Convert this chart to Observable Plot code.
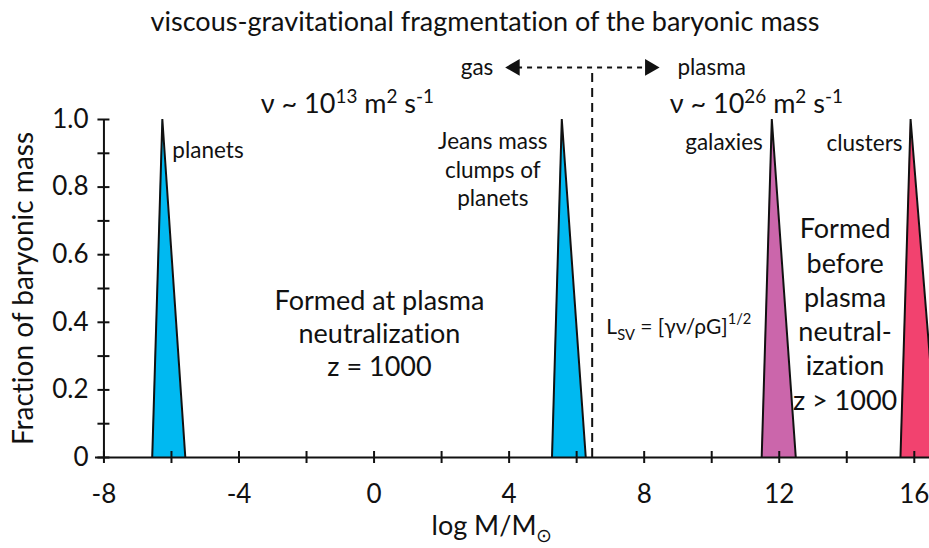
<!DOCTYPE html>
<html><head><meta charset="utf-8">
<script src="https://cdn.jsdelivr.net/npm/d3@7"></script>
<script src="https://cdn.jsdelivr.net/npm/@observablehq/plot@0.6"></script>
<style>
body{margin:0;background:#fff;font-family:Lato, sans-serif;color:#111;font-variant-ligatures:none;position:relative;width:929px;}
svg text{font-variant-ligatures:none;}
#title{height:40px;position:relative;}
#title span{position:absolute;left:485px;top:20px;transform:translate(-50%,-50%);white-space:nowrap;font-size:27px;}
#xlabel{height:36px;position:relative;}
#xlabel span{position:absolute;left:492px;top:15px;transform:translate(-50%,-50%);white-space:nowrap;font-size:27px;}
#xlabel sub{font-size:70%;}
</style></head><body>
<div id="title"><span>viscous-gravitational fragmentation of the baryonic mass</span></div>
<div id="chart"></div>
<div id="xlabel"><span>log M/M<sub>⊙</sub></span></div>
<script>
// peaks of the baryonic-mass distribution (log M/M_sun)
const peaks = ["planets", "Jeans mass clumps", "galaxies", "clusters"];
const apex = [-6.27, 5.56, 11.78, 15.89];
const baseLeft = [-6.57, 5.27, 11.48, 15.59];
const baseRight = [-5.59, 6.27, 12.49, 16.7];
const peakFraction = [1.0, 1.0, 1.0, 1.0];
const peakColors = ["#00b9f1", "#00b9f1", "#cb66ab", "#f2426f"];
const peakLabels = ["planets", "Jeans mass\nclumps of\nplanets", "galaxies", "clusters"];

const xTicks = [-8, -6, -4, -2, 0, 2, 4, 6, 8, 10, 12, 14, 16];
const xTickLabels = [-8, -4, 0, 4, 8, 12, 16];
const yTicks = [0, 0.1, 0.2, 0.3, 0.4, 0.5, 0.6, 0.7, 0.8, 0.9, 1.0];
const yTickLabels = [0, 0.2, 0.4, 0.6, 0.8, 1.0];

// gas / plasma transition
const transitionX = 6.46;
const arrowY = 1.154;
const arrowTips = [3.95, 8.39];

const tri = peaks.flatMap((p, i) => [
  {peak: p, x: baseLeft[i], y: 0},
  {peak: p, x: apex[i], y: peakFraction[i]},
  {peak: p, x: baseRight[i], y: 0}
]);

const F = "Lato, sans-serif";
const labelSize = 22.5;

const plot = Plot.plot({
  width: 929, height: 472,
  marginLeft: 95, marginRight: 0, marginTop: 79, marginBottom: 55,
  style: {fontFamily: F, color: "#111", background: "white", overflow: "visible"},
  x: {domain: [-8.25, 16.45]},
  y: {domain: [0, 1]},
  color: {domain: peaks, range: peakColors},
  marks: [
    Plot.areaY(tri, {x: "x", y: "y", z: "peak", fill: "peak", curve: "linear", clip: true}),
    Plot.line(tri, {x: "x", y: "y", z: "peak", stroke: "#111", strokeWidth: 2, strokeLinejoin: "miter", strokeMiterlimit: 30, clip: true}),
    // axis lines and crossing ticks
    Plot.ruleY([0], {stroke: "#111", strokeWidth: 2}),
    Plot.ruleX([-8], {y1: 0, y2: 1, stroke: "#111", strokeWidth: 2}),
    Plot.ruleX(xTicks, {x: d => d, y1: 0, y2: 0, insetTop: -6, insetBottom: -6, stroke: "#111", strokeWidth: 2}),
    Plot.ruleY(yTicks, {y: d => d, x1: -8, x2: -8, insetLeft: -6, insetRight: -6, stroke: "#111", strokeWidth: 2}),
    Plot.axisX({ticks: xTickLabels, tickSize: 0, tickPadding: 27, fontSize: 26, label: null, tickFormat: d => String(d)}),
    Plot.axisY({ticks: yTickLabels, tickSize: 0, tickPadding: 7, fontSize: 26, label: null, tickFormat: d => d === 0 ? "0" : d.toFixed(1)}),
    Plot.text(["Fraction of baryonic mass"], {frameAnchor: "left", textAnchor: "middle", rotate: -90, dx: -71, fontSize: 28}),
    // transition line and arrow
    Plot.ruleX([transitionX], {y1: 0, y2: arrowY, stroke: "#111", strokeWidth: 2, strokeDasharray: "9,6"}),
    Plot.ruleY([arrowY], {x1: arrowTips[0] + 0.3, x2: arrowTips[1] - 0.3, stroke: "#111", strokeWidth: 2, strokeDasharray: "5,5"}),
    Plot.dot(arrowTips, {x: d => d < transitionX ? d + 0.22 : d - 0.22, y: arrowY, symbol: "triangle2", rotate: d => d < transitionX ? -90 : 90, r: 8, fill: "#111", stroke: null}),
    Plot.text(["gas"], {x: 3.05, y: arrowY, fontSize: labelSize}),
    Plot.text(["plasma"], {x: 10.0, y: arrowY, fontSize: labelSize}),
    // peak labels
    Plot.text([0], {x: apex[0], y: peakFraction[0], text: () => peakLabels[0], textAnchor: "start", dx: 10, dy: 31, fontSize: labelSize}),
    Plot.text([1], {x: apex[1], y: peakFraction[1], text: () => peakLabels[1], textAnchor: "middle", dx: -69, dy: 49, lineHeight: 1.27, fontSize: labelSize}),
    Plot.text([2], {x: apex[2], y: peakFraction[2], text: () => peakLabels[2], textAnchor: "end", dx: -9, dy: 23, fontSize: labelSize}),
    Plot.text([3], {x: apex[3], y: peakFraction[3], text: () => peakLabels[3], textAnchor: "end", dx: -8, dy: 24, fontSize: labelSize}),
    // annotations
    Plot.text(["ν ~ 10^{13} m^{2} s^{-1}"], {x: -0.79, y: 1.044, fontSize: 27}),
    Plot.text(["ν ~ 10^{26} m^{2} s^{-1}"], {x: 11.32, y: 1.044, fontSize: 27}),
    Plot.text(["Formed at plasma\nneutralization\nz = 1000"], {x: 0.16, y: 0.370, fontSize: 27, lineHeight: 1.23}),
    Plot.text(["L_{SV} = [γν/ρG]^{1/2}"], {x: 6.88, y: 0.385, textAnchor: "start", fontSize: 21}),
    Plot.text(["Formed\nbefore\nplasma\nneutral-\nization\nz > 1000"], {x: 13.95, y: 0.4275, fontSize: 27, lineHeight: 1.27})
  ]
});

// rich text: ^{..} superscript, _{..} subscript
d3.select(plot).selectAll("text").each(function() {
  const el = this;
  const s = el.textContent;
  if (!/[\^_]\{/.test(s)) return;
  el.textContent = "";
  const re = /([\^_])\{([^}]*)\}|([^\^_]+)/g;
  let m, shift = 0;
  while ((m = re.exec(s))) {
    const t = document.createElementNS("http://www.w3.org/2000/svg", "tspan");
    if (m[3] !== undefined) {
      t.textContent = m[3];
      if (shift) t.setAttribute("dy", -shift);
      shift = 0;
    } else {
      const d = m[1] === "^" ? -10 : 6;
      t.textContent = m[2];
      t.setAttribute("font-size", "70%");
      t.setAttribute("dy", d - shift);
      shift = d;
    }
    el.appendChild(t);
  }
});

document.getElementById("chart").appendChild(plot);
</script>
</body></html>
